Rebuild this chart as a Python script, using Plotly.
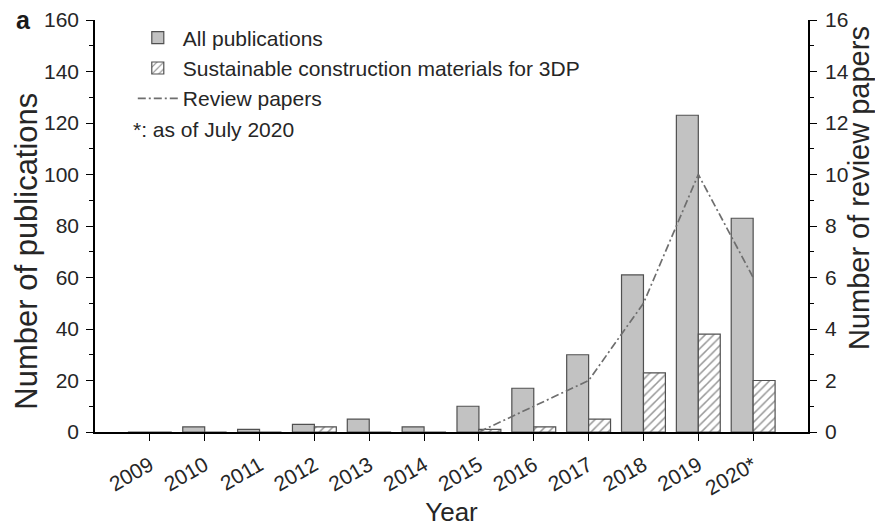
import plotly.graph_objects as go

years = [2009, 2010, 2011, 2012, 2013, 2014, 2015, 2016, 2017, 2018, 2019, 2020]
tick_labels = ["2009", "2010", "2011", "2012", "2013", "2014", "2015", "2016", "2017", "2018", "2019", "2020*"]
all_pubs = [0, 2, 1, 3, 5, 2, 10, 17, 30, 61, 123, 83]
sustainable = [0, 0, 0, 2, 0, 0, 1, 2, 5, 23, 38, 20]
review_years = [2015, 2016, 2017, 2018, 2019, 2020]
review_papers = [0, 1, 2, 5, 10, 6]

FONT = "Liberation Sans, Arial, sans-serif"
TXT = "#262626"

fig = go.Figure()
fig.add_trace(go.Bar(
    x=years, y=all_pubs, name="All publications",
    width=0.4, offset=-0.4,
    marker=dict(color="#c2c2c2", line=dict(color="#505050", width=1.2)),
))
fig.add_trace(go.Bar(
    x=years, y=sustainable, name="Sustainable construction materials for 3DP",
    width=0.4, offset=0,
    marker=dict(color="white", line=dict(color="#505050", width=1.2),
                pattern=dict(shape="/", size=6, solidity=0.25, fgcolor="#303030", bgcolor="white")),
))
fig.add_trace(go.Scatter(
    x=review_years, y=review_papers, name="Review papers", yaxis="y2",
    mode="lines", line=dict(color="#6e6e6e", width=1.7, dash="8px,3px,2px,3px"),
))

axis_common = dict(ticks="outside", ticklen=7, tickcolor="black", tickwidth=1.3,
                   showline=True, linecolor="black", linewidth=1.6,
                   showgrid=False, zeroline=False, automargin=False,
                   tickfont=dict(size=21, color=TXT))

fig.update_layout(
    width=875, height=531,
    margin=dict(l=95, r=67, t=20, b=99),
    paper_bgcolor="white", plot_bgcolor="white",
    font=dict(family=FONT, size=21, color=TXT),
    barmode="overlay",
    showlegend=True,
    legend=dict(x=0.053, y=1.006, xanchor="left", yanchor="top",
                bgcolor="rgba(0,0,0,0)", font=dict(size=21, color=TXT),
                tracegroupgap=0, itemwidth=40),
    xaxis=dict(
        range=[2008, 2021], tickvals=years, ticktext=tick_labels,
        tickangle=-30, ticklabelstandoff=4,
        title=dict(text="Year", font=dict(size=26, color=TXT), standoff=4),
        **axis_common,
    ),
    yaxis=dict(
        range=[0, 160], dtick=20, ticklabelstandoff=3,
        minor=dict(dtick=10, ticks="outside", ticklen=4, tickcolor="black"),
        **axis_common,
    ),
    yaxis2=dict(
        range=[0, 16], dtick=2, overlaying="y", side="right", ticklabelstandoff=4,
        minor=dict(dtick=1, ticks="outside", ticklen=4, tickcolor="black"),
        **axis_common,
    ),
    annotations=[
        dict(text="<b>a</b>", xref="paper", yref="paper", x=-0.113, y=1.0,
             showarrow=False, font=dict(size=25, color="#1a1a1a"), xanchor="left", yanchor="middle"),
        dict(text="*: as of July 2020", xref="paper", yref="paper", x=0.05, y=0.735,
             showarrow=False, font=dict(size=21, color=TXT), xanchor="left", yanchor="middle"),
        dict(text="Number of publications", xref="paper", yref="paper", x=-0.0954, y=0.44,
             textangle=-90, showarrow=False, font=dict(size=31, color=TXT),
             xanchor="center", yanchor="middle"),
        dict(text="Number of review papers", xref="paper", yref="paper", x=1.0715, y=0.592,
             textangle=-90, showarrow=False, font=dict(size=29, color=TXT),
             xanchor="center", yanchor="middle"),
    ],
)

fig.write_html("out.html", config={"displayModeBar": False},
               post_script="document.body.style.margin='0px';")
